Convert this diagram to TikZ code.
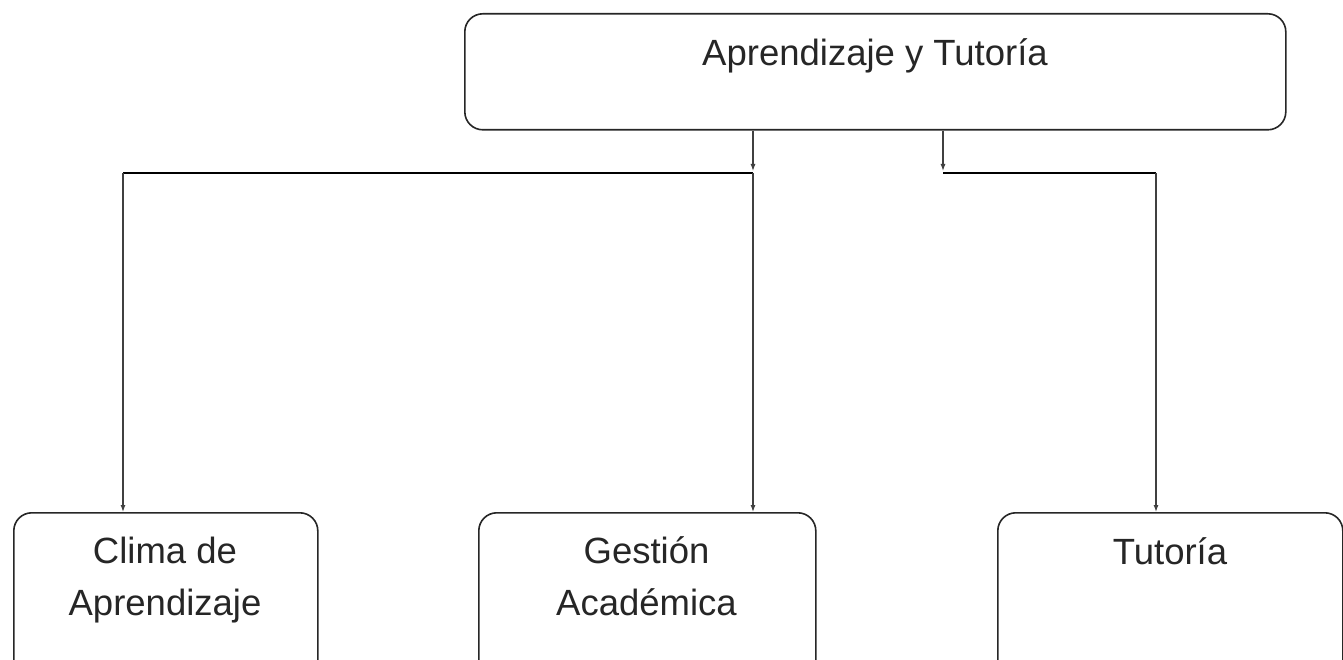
\documentclass[tikz,border=0pt]{standalone}
\usepackage{fontspec}
\setmainfont{Liberation Sans}
\usetikzlibrary{arrows.meta}
\begin{document}
\begin{tikzpicture}[x=1pt,y=-1pt,
  box/.style={draw=black!85, line width=1.6pt, rounded corners=18pt, inner sep=0pt, anchor=north west},
  lbl/.style={font=\fontsize{36.5}{52}\selectfont, text=black!85, align=center, inner sep=0pt, anchor=base},
  conn/.style={draw=black!75, line width=1.2pt},
  bar/.style={draw=black, line width=2.2pt},
  tip/.style={-{Latex[length=7pt,width=5pt]}}]
\useasboundingbox (0,0) rectangle (1343,660);
\fill[white] (0,0) rectangle (1343,660);
\clip (0,0) rectangle (1343,660);
% boxes
\node[box, minimum width=821pt, minimum height=116pt] (top) at (464,13) {};
\node[box, minimum width=304pt, minimum height=170pt] (clima) at (13,512) {};
\node[box, minimum width=337pt, minimum height=170pt] (gest) at (478,512) {};
\node[box, minimum width=345pt, minimum height=170pt] (tut) at (997,512) {};
% texts (base anchor = baseline of the last line)
\node[lbl] (topT) at (875,66) {Aprendizaje y Tutoría};
\node[lbl] (climaT) at (165,615) {Clima de\\Aprendizaje};
\node[lbl] (gestT) at (646.5,615) {Gestión\\Académica};
\node[lbl] (tutT) at (1170,564) {Tutoría};
% junctions
\coordinate (jL) at (753,173);
\coordinate (jR) at (943,173);
\coordinate (cC) at (123,173);
\coordinate (cT) at (1156,173);
% connectors
\draw[conn,tip,shorten >=2pt] (top.south -| jL) -- (jL);
\draw[conn,tip,shorten >=2pt] (top.south -| jR) -- (jR);
\draw[bar] (cC) -- (jL);
\draw[bar] (jR) -- (cT);
\draw[conn,tip] (cC) -- (cC |- clima.north);
\draw[conn,tip] (jL) -- (jL |- gest.north);
\draw[conn,tip] (cT) -- (cT |- tut.north);
\end{tikzpicture}
\end{document}
